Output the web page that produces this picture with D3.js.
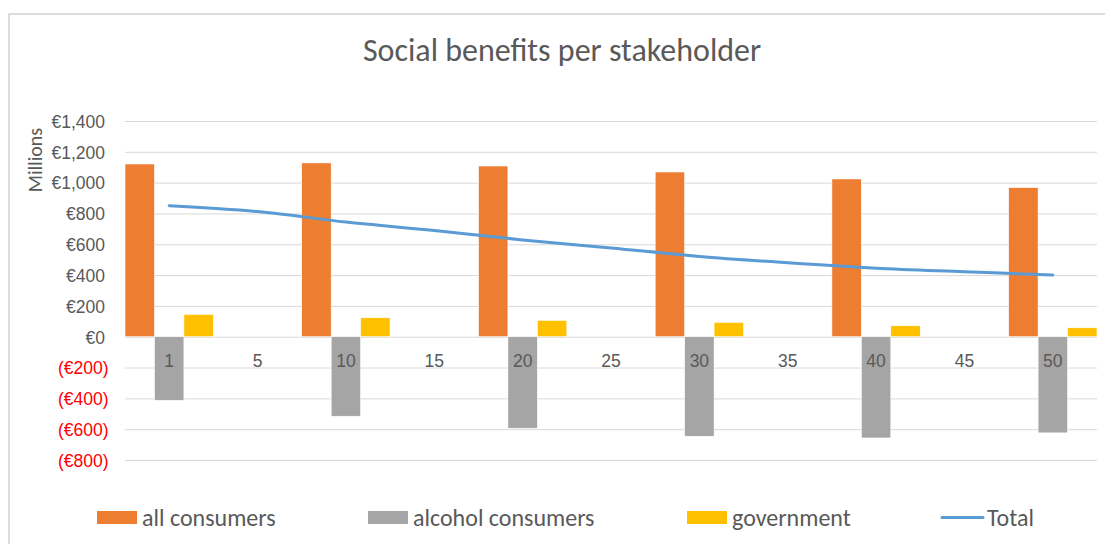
<!DOCTYPE html>
<html>
<head>
<meta charset="utf-8">
<script src="https://cdn.jsdelivr.net/npm/d3@7"></script>
<style>
  html, body { margin: 0; padding: 0; background: #fff; }
  svg { display: block; font-family: Carlito, Lato, "Open Sans", sans-serif; }
</style>
</head>
<body>
<svg id="chart" width="1105" height="544"></svg>
<script>
// Year categories along the horizontal axis
const years = ["1", "5", "10", "15", "20", "25", "30", "35", "40", "45", "50"];

// Benefits per stakeholder (millions of euro); bars exist only for selected years
const allConsumers     = [1121, null, 1128, null, 1108, null, 1069, null, 1024, null, 968];
const alcoholConsumers = [-413, null, -516, null, -594, null, -646, null, -657, null, -624];
const government       = [145, null, 123, null, 106, null, 93, null, 71, null, 58];
const total            = [850, 812, 744, 690, 628, 576, 521, 480, 445, 422, 400];

// Value axis ticks
const yTicks = [-800, -600, -400, -200, 0, 200, 400, 600, 800, 1000, 1200, 1400];

const seriesNames  = ["all consumers", "alcohol consumers", "government", "Total"];
const seriesColors = ["#ED7D31", "#A5A5A5", "#FFC000", "#5B9BD5"];

const svg = d3.select("#chart");
const textColor = "#595959";

// chart frame
svg.append("rect")
  .attr("x", 9).attr("y", 14)
  .attr("width", 1300).attr("height", 800)
  .attr("fill", "#fff")
  .attr("stroke", "#D9D9D9").attr("stroke-width", 1.8);

// title
svg.append("text")
  .attr("x", 562).attr("y", 61)
  .attr("text-anchor", "middle")
  .attr("fill", textColor)
  .attr("font-size", 32)
  .text("Social benefits per stakeholder");

const plot = { left: 125, right: 1097, top: 121, bottom: 460 };

const x = d3.scaleBand().domain(years).range([plot.left, plot.right]).paddingInner(0).paddingOuter(0);
const y = d3.scaleLinear().domain([-800, 1400]).range([plot.bottom, plot.top]);

// gridlines
const grid = svg.append("g")
  .attr("transform", `translate(${plot.left},0)`)
  .call(d3.axisLeft(y).tickValues(yTicks).tickSize(-(plot.right - plot.left)).tickFormat(""));
grid.select(".domain").remove();
grid.selectAll(".tick line").attr("stroke", "#D9D9D9").attr("stroke-width", 1);

// value axis labels
const euro = d3.format(",");
const yAxis = svg.append("g")
  .attr("transform", `translate(${plot.left - 20},0)`)
  .call(d3.axisLeft(y).tickValues(yTicks).tickSize(0).tickPadding(0)
    .tickFormat(v => v < 0 ? `(€${euro(-v)})` : `€${euro(v)}`));
yAxis.select(".domain").remove();
yAxis.selectAll(".tick text")
  .attr("font-size", 17.5)
  .attr("fill", v => v < 0 ? "#FF0000" : textColor)
  .attr("dx", v => v < 0 ? 3.5 : 0)
  .attr("dy", "0.36em");

// axis title
svg.append("text")
  .attr("transform", "translate(42,160) rotate(-90)")
  .attr("text-anchor", "middle")
  .attr("fill", textColor)
  .attr("font-size", 20)
  .text("Millions");

// clustered bars: three series share each category band with no gap
const barSeries = [allConsumers, alcoholConsumers, government];
const sub = d3.scaleBand().domain(d3.range(barSeries.length)).range([0, x.bandwidth()]).padding(0);
const bars = svg.append("g");
barSeries.forEach((vals, si) => {
  bars.selectAll(null)
    .data(years.map((yr, i) => ({ yr, v: vals[i] })).filter(d => d.v != null))
    .join("rect")
    .attr("x", d => x(d.yr) + sub(si))
    .attr("width", sub.bandwidth())
    .attr("y", d => y(Math.max(0, d.v)))
    .attr("height", d => Math.abs(y(d.v) - y(0)))
    .attr("fill", seriesColors[si])
    .attr("stroke", "#fff").attr("stroke-width", 0.6);
});

// category axis labels sit just below the zero line
const xAxis = svg.append("g")
  .attr("transform", `translate(0,${y(0)})`)
  .call(d3.axisBottom(x).tickSize(0).tickPadding(0));
xAxis.select(".domain").remove();
xAxis.selectAll(".tick text")
  .attr("font-size", 17.5)
  .attr("fill", textColor)
  .attr("y", 24)
  .attr("dy", "0.36em");

// total line
const line = d3.line()
  .x((d, i) => x(years[i]) + x.bandwidth() / 2)
  .y(d => y(d))
  .curve(d3.curveCatmullRom.alpha(0.5));
svg.append("path")
  .datum(total)
  .attr("d", line)
  .attr("fill", "none")
  .attr("stroke", seriesColors[3])
  .attr("stroke-width", 3)
  .attr("stroke-linecap", "round");

// legend
const legendY = 517.5;
const legendX = [97, 368, 687, 942];
const legend = svg.append("g");
seriesNames.forEach((name, i) => {
  const g = legend.append("g").attr("transform", `translate(${legendX[i]},${legendY})`);
  if (i < 3) {
    g.append("rect").attr("x", 0).attr("y", -6.5).attr("width", 40).attr("height", 13)
      .attr("fill", seriesColors[i]);
  } else {
    g.append("line").attr("x1", 0).attr("x2", 41).attr("y1", 0).attr("y2", 0)
      .attr("stroke", seriesColors[i]).attr("stroke-width", 3).attr("stroke-linecap", "round");
  }
  g.append("text")
    .attr("x", 45)
    .attr("y", 0)
    .attr("dy", "0.35em")
    .attr("fill", textColor)
    .attr("font-size", 24)
    .text(name);
});
</script>
</body>
</html>
